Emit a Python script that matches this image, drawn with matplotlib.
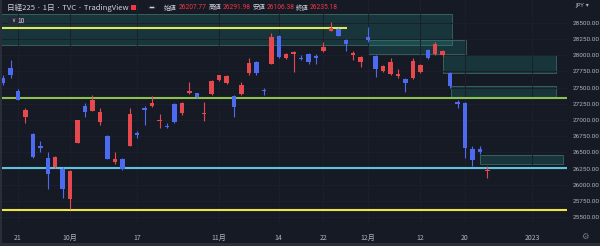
import matplotlib
matplotlib.use("Agg")
import matplotlib.pyplot as plt
from matplotlib.patches import Rectangle, FancyBboxPatch
import numpy as np

plt.rcParams['font.family'] = ['Noto Sans CJK JP', 'DejaVu Sans']

# ---------------- data ----------------
dates = ["09-16", "09-20", "09-21", "09-22", "09-26", "09-27", "09-28", "09-29", "09-30",
         "10-03", "10-04", "10-05", "10-06", "10-07", "10-11", "10-12", "10-13", "10-14",
         "10-17", "10-18", "10-19", "10-20", "10-21", "10-24", "10-25", "10-26", "10-27",
         "10-28", "10-31", "11-01", "11-02", "11-04", "11-07", "11-08", "11-09", "11-10",
         "11-11", "11-14", "11-15", "11-16", "11-17", "11-18", "11-21", "11-22", "11-24",
         "11-25", "11-28", "11-29", "11-30", "12-01", "12-02", "12-05", "12-06", "12-07",
         "12-08", "12-09", "12-12", "12-13", "12-14", "12-15", "12-16", "12-19", "12-20",
         "12-21", "12-22", "12-23"]
opens = [27640, 27800, 27446, 27050, 26783, 26590, 26417, 26278, 26242,
         25774, 26649, 27220, 27143, 26973, 26757, 26350, 26397, 26603,
         26790, 27170, 27220, 26983, 26905, 27240, 27101, 27410, 27410,
         27090, 27400, 27616, 27565, 27374, 27400, 27719, 27899, 27460,
         27868, 28295, 27950, 28022, 27960, 28017, 27991, 28063, 28377,
         28403, 28233, 27996, 27889, 28285, 27986, 27760, 27708, 27680,
         27626, 27642, 27745, 28079, 28012, 27996, 27719, 27282, 27266,
         26546, 26551, 26207.77]
highs = [27690, 27925, 27470, 27190, 26800, 26675, 26510, 26440, 26270,
         26230, 27000, 27256, 27384, 27180, 26770, 26500, 26410, 27179,
         26830, 27220, 27369, 27085, 26960, 27260, 27280, 27590, 27420,
         27270, 27610, 27700, 27690, 27390, 27590, 27960, 27910, 27487,
         28336, 28310, 28030, 28060, 28000, 28030, 28010, 28207, 28506,
         28420, 28250, 28063, 27990, 28439, 28000, 27840, 27950, 27790,
         27640, 27950, 27860, 28100, 28207, 28080, 27740, 27300, 27280,
         26598, 26590, 26291.98]
lows = [27540, 27640, 27300, 26960, 26420, 26510, 25934, 26260, 25800,
        25621, 26640, 27050, 27130, 26920, 26390, 26320, 26220, 26590,
        26720, 26921, 27200, 26880, 26880, 26960, 27080, 27400, 27340,
        26983, 27390, 27600, 27550, 27050, 27390, 27700, 27700, 27384,
        27860, 27960, 27940, 27745, 27920, 27860, 27860, 28050, 28370,
        28290, 28063, 27925, 27811, 28200, 27667, 27740, 27700, 27640,
        27436, 27630, 27730, 27940, 28000, 27980, 27500, 27180, 26417,
        26294, 26480, 26106.38]
closes = [27567, 27688, 27313, 27153, 26431, 26571, 26173, 26422, 25937,
          26215, 26992, 27120, 27311, 27116, 26401, 26397, 26237, 27090,
          26775, 27156, 27257, 27006, 26890, 26974, 27256, 27441, 27348,
          27105, 27600, 27688, 27672, 27204, 27539, 27883, 27719, 27446,
          28280, 27976, 28012, 28043, 27935, 27899, 27950, 28130, 28413,
          28295, 28166, 28038, 27976, 28233, 27786, 27832, 27899, 27693,
          27575, 27909, 27847, 27960, 28166, 28063, 27528, 27240, 26572,
          26381, 26505, 26235.18]

# horizontal levels
level_top_yellow = 28424
level_green = 27335
level_cyan = 26255
level_bottom_yellow = 25610

# zones: (start index, end index, low price, high price)
zone_x0 = [-2.0, 49.0, 59.05, 60.1, 64.0]
zone_x1 = [60.3, 62.1, 74.2, 74.2, 75.2]
zone_lo = [28156, 28012, 27719, 27359, 26315]
zone_hi = [28640, 28233, 28002, 27528, 26458]

xtick_idx = [2, 9, 18, 29, 37, 43, 49, 56, 62, 71]
xtick_labels = ["21", "10月", "17", "11月", "14", "22", "12月", "12", "20", "2023"]
ytick_vals = list(range(25500, 28501, 250))

header_vals = ["26207.77", "26291.98", "26106.38", "26235.18"]
header_keys = ["始値", "高値", "安値", "終値"]

# ---------------- style ----------------
BG = "#161a25"
GRID = "#1c202c"
TXT = "#b2b5be"
UP = "#e5484d"
DOWN = "#4d6bf0"
W, H = 600, 246

fig = plt.figure(figsize=(W / 100, H / 100), dpi=100, facecolor=BG)

ax_l, ax_r, ax_t, ax_b = 2, 567, 0, 225
ax = fig.add_axes([ax_l / W, (H - ax_b) / H, (ax_r - ax_l) / W, (ax_b - ax_t) / H])
ax.set_facecolor(BG)

px_per_bar = 7.45
x_of_first = 18.0  # pixel of index 2
ax.set_xlim(2 + (ax_l - x_of_first) / px_per_bar, 2 + (ax_r - x_of_first) / px_per_bar)
ax.set_ylim(25379, 28850)

for s in ax.spines.values():
    s.set_visible(False)

# grid
ax.set_xticks(xtick_idx)
ax.set_xticklabels(xtick_labels, fontsize=5, color=TXT)
ax.set_yticks(ytick_vals)
ax.set_yticklabels([f"{v:.2f}" for v in ytick_vals], fontsize=4.6, color=TXT,
                   family=['Roboto', 'DejaVu Sans'])
ax.yaxis.tick_right()
ax.tick_params(axis='both', length=0)
ax.tick_params(axis='y', pad=3.8)
ax.tick_params(axis='x', pad=6.5)
ax.grid(True, color=GRID, linewidth=0.7, zorder=0)

# zones
for x0, x1, lo, hi in zip(zone_x0, zone_x1, zone_lo, zone_hi):
    ax.add_patch(Rectangle((x0, lo), x1 - x0, hi - lo, facecolor="#26a69a", alpha=0.2,
                           edgecolor="none", zorder=1))
    ax.add_patch(Rectangle((x0, lo), x1 - x0, hi - lo, facecolor="none",
                           edgecolor="#3d6e68", linewidth=0.7, alpha=0.8, zorder=1))

# levels
xmin, xmax = ax.get_xlim()
ax.hlines(level_top_yellow, xmin, 46.1, color="#dfe85a", linewidth=1.5, zorder=2)
ax.hlines(level_green, xmin, xmax, color="#8cc152", linewidth=1.5, zorder=2)
ax.hlines(level_cyan, xmin, xmax, color="#5fc3dc", linewidth=1.5, zorder=2)
ax.hlines(level_bottom_yellow, xmin, xmax, color="#f0e640", linewidth=1.5, zorder=2)

# candles
idx = np.arange(len(dates))
o = np.array(opens); h = np.array(highs); l = np.array(lows); c = np.array(closes)
cols = [UP if cc >= oo else DOWN for oo, cc in zip(o, c)]
ax.vlines(idx, l, h, colors=cols, linewidth=0.8, zorder=3)
body_lo = np.minimum(o, c)
body_h = np.maximum(np.abs(c - o), 22)
ax.bar(idx, body_h, bottom=body_lo, width=0.6, color=cols, edgecolor='none', zorder=4)

# borders
fig.patches.append(Rectangle((0, 0), 2 / W, 1, transform=fig.transFigure,
                             facecolor="#2a2e39", edgecolor="none"))
fig.patches.append(Rectangle((0, 0), 1, 3 / H, transform=fig.transFigure,
                             facecolor="#2a2e39", edgecolor="none"))

def fx(px):
    return px / W

def fy(py):
    return 1 - py / H

# header
fig.text(fx(7), fy(7.5), "日経225 · 1日 · TVC · TradingView", fontsize=5.5, color="#d1d4dc",
         va="center", ha="left")
fig.patches.append(Rectangle((fx(131), fy(10)), 5 / W, 5 / H, transform=fig.transFigure,
                             facecolor="#f23645", edgecolor="none"))
fig.patches.append(plt.Circle((fx(152), fy(7.5)), 3.5 / W, transform=fig.transFigure,
                              facecolor="#50535e", edgecolor="none"))
fig.patches.append(Rectangle((fx(150), fy(8)), 4 / W, 1 / H, transform=fig.transFigure,
                             facecolor="#d1d4dc", edgecolor="none"))
key_x = [164, 209, 253, 296]
val_x = [179, 223, 267, 310]
for k, v, kx, vx in zip(header_keys, header_vals, key_x, val_x):
    fig.text(fx(kx), fy(7.5), k, fontsize=4.6, color="#d1d4dc", va="center", ha="left")
    fig.text(fx(vx), fy(7.5), v, fontsize=4.8, color="#f23645", va="center", ha="left",
             family=['Roboto', 'DejaVu Sans'])

fig.patches.append(FancyBboxPatch((fx(8), fy(25)), 17 / W, 8 / H, transform=fig.transFigure,
                                  boxstyle="round,pad=0,rounding_size=0.004",
                                  facecolor="#262a36", edgecolor="none"))
fig.text(fx(11), fy(21), "∨", fontsize=4, color="#d1d4dc", va="center", ha="left",
         family=['DejaVu Sans'])
fig.text(fx(17), fy(21), "10", fontsize=4.8, color="#d1d4dc", va="center", ha="left")

fig.text(fx(575), fy(6), "JPY ▾", fontsize=4.3, color=TXT, va="center", ha="left",
         family=['DejaVu Sans'])
fig.text(fx(585), fy(236), "⚙", fontsize=6, color="#787b86", va="center", ha="center",
         family=['DejaVu Sans'])

fig.savefig("out.png", dpi=100, facecolor=BG)
